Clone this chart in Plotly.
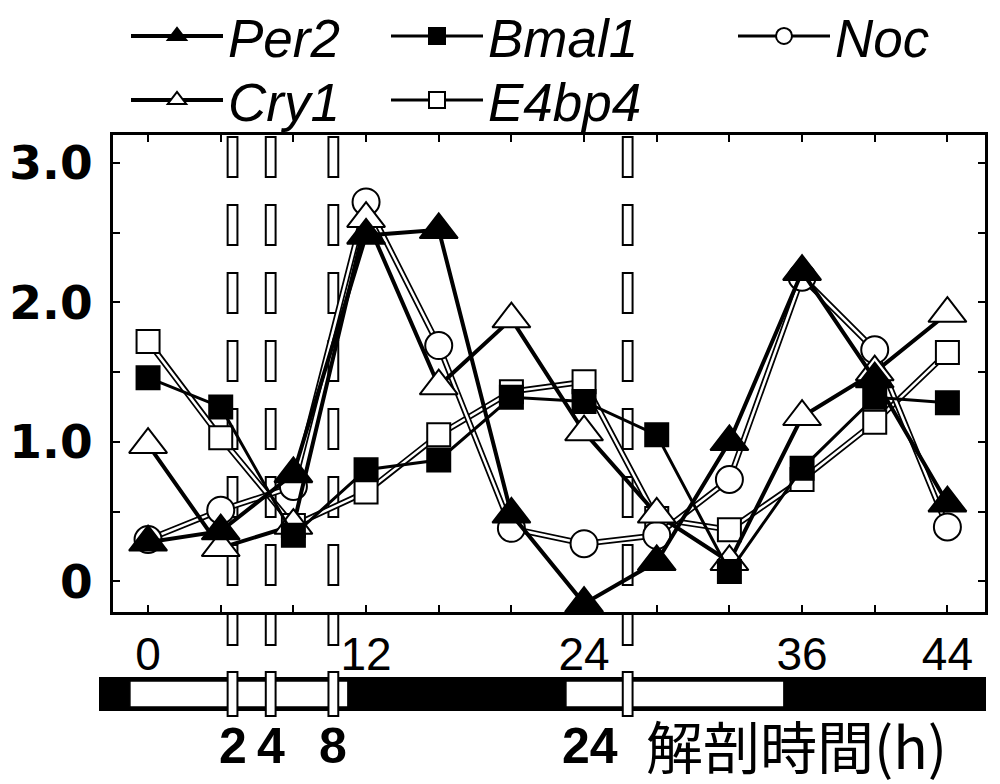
import plotly.graph_objects as go

hours = [0, 4, 8, 12, 16, 20, 24, 28, 32, 36, 40, 44]
per2 = [0.28, 0.36, 0.77, 2.48, 2.52, 0.48, -0.16, 0.14, 1.00, 2.22, 1.45, 0.56]
bmal1 = [1.46, 1.25, 0.33, 0.80, 0.87, 1.32, 1.29, 1.05, 0.07, 0.81, 1.32, 1.28]
noc = [0.30, 0.51, 0.68, 2.72, 1.69, 0.38, 0.27, 0.33, 0.73, 2.18, 1.66, 0.39]
cry1 = [0.98, 0.24, 0.40, 2.60, 1.40, 1.88, 1.07, 0.48, 0.14, 1.18, 1.50, 1.92]
e4bp4 = [1.72, 1.03, 0.40, 0.64, 1.05, 1.36, 1.43, 0.45, 0.37, 0.73, 1.14, 1.64]

x_tick_vals = [0, 4, 8, 12, 16, 20, 24, 28, 32, 36, 40, 44]
x_tick_text = ["0", "", "", "12", "", "", "24", "", "", "36", "", "44"]
y_tick_vals = [0, 0.5, 1.0, 1.5, 2.0, 2.5, 3.0]
y_tick_text = ["0", "", "1.0", "", "2.0", "", "3.0"]

# light/dark schedule (hours): dark, light, dark, light, dark
ld_edges = [-1.93, -1.0, 11.0, 23.0, 35.0, 46.07]
ld_light = [False, True, False, True, False]

# dissection markers (hours on axis) and their labels
dissect_hours = [4.65, 6.75, 10.2, 26.4]
dissect_labels = ["2", "4", "8", "24"]
dissect_label_pos = [4.65, 6.75, 10.2, 24.3]

# plot-area geometry (pixels)
PL, PR, PT, PB = 113, 985, 135, 612
W, H = PR - PL, PB - PT
def px(p):
    return (p - PL) / W
def py(p):
    return (PB - p) / H

series = ["Per2", "Bmal1", "Noc", "Cry1", "E4bp4"]
styles = {
    "Per2": dict(y=per2, symbol="triangle-up", size=33, fill="black", hollow=False, width=4),
    "Bmal1": dict(y=bmal1, symbol="square", size=23, fill="black", hollow=False, width=3),
    "Noc": dict(y=noc, symbol="circle", size=27, fill="white", hollow=True, width=2.5),
    "Cry1": dict(y=cry1, symbol="triangle-up", size=33, fill="white", hollow=False, width=4),
    "E4bp4": dict(y=e4bp4, symbol="square", size=23, fill="white", hollow=True, width=2.5),
}
# legend placement (pixel left edge, row centre)
legend_pos = {"Per2": (126, 36), "Bmal1": (386, 36), "Noc": (733, 36),
              "Cry1": (126, 100), "E4bp4": (386, 100)}

fig = go.Figure()

draw_order = ["E4bp4", "Noc", "Cry1", "Bmal1", "Per2"]
for name in draw_order:
    s = styles[name]
    mk = dict(symbol=s["symbol"], size=s["size"], color=s["fill"], line=dict(color="black", width=2))
    if s["hollow"]:
        fig.add_trace(go.Scatter(x=hours, y=s["y"], mode="lines", showlegend=False,
                                 line=dict(color="black", width=s["width"] + 3.5), hoverinfo="skip"))
        fig.add_trace(go.Scatter(x=hours, y=s["y"], mode="lines", showlegend=False,
                                 line=dict(color="white", width=s["width"]), hoverinfo="skip"))
        fig.add_trace(go.Scatter(x=hours, y=s["y"], mode="markers", showlegend=False, marker=mk))
    else:
        fig.add_trace(go.Scatter(x=hours, y=s["y"], mode="lines+markers", showlegend=False,
                                 line=dict(color="black", width=s["width"]), marker=mk))

legend_font = dict(family="Liberation Sans", size=53, color="black", style="italic")
legends = {}
for i, name in enumerate(series):
    s = styles[name]
    key = "legend" if i == 0 else "legend%d" % (i + 1)
    fig.add_trace(go.Scatter(x=[None], y=[None], mode="lines+markers", name=name, legend=key,
                             line=dict(color="black", width=3 if s["hollow"] else s["width"]),
                             marker=dict(symbol=s["symbol"], size=s["size"], color=s["fill"],
                                         line=dict(color="black", width=2))))
    lx, ly = legend_pos[name]
    legends[key] = dict(orientation="h", x=px(lx), xanchor="left", y=py(ly), yanchor="middle",
                        font=legend_font, itemwidth=92, bgcolor="rgba(0,0,0,0)")

shapes = []
# dashed hollow bars
for h in dissect_hours:
    top = 137
    while top < 645:
        bot = min(top + 40, 645)
        shapes.append(dict(type="rect", xref="x", yref="paper", x0=h - 0.27, x1=h + 0.27,
                           y0=py(bot), y1=py(top), fillcolor="white",
                           line=dict(color="black", width=2), layer="below"))
        top += 68

# LD bar
shapes.append(dict(type="rect", xref="paper", yref="paper", x0=px(100), x1=1.0,
                   y0=py(710), y1=py(678), fillcolor="black", line=dict(color="black", width=2)))
for i, lt in enumerate(ld_light):
    if lt:
        shapes.append(dict(type="rect", xref="x", yref="paper", x0=ld_edges[i], x1=ld_edges[i + 1],
                           y0=py(707), y1=py(681), fillcolor="white", line=dict(color="black", width=1.5)))
for h in dissect_hours:
    shapes.append(dict(type="rect", xref="x", yref="paper", x0=h - 0.27, x1=h + 0.27,
                       y0=py(716), y1=py(672), fillcolor="white", line=dict(color="black", width=2)))

annotations = []
for xh, lab in zip(dissect_label_pos, dissect_labels):
    annotations.append(dict(x=xh, xref="x", y=py(746), yref="paper", text=lab, showarrow=False,
                            font=dict(family="Liberation Sans", size=50, color="black", weight="bold"),
                            xanchor="center", yanchor="middle"))
annotations.append(dict(x=27.3, xref="x", y=py(744), yref="paper", text="解剖時間(h)", showarrow=False,
                        font=dict(family="Noto Sans CJK JP", size=57, color="black"),
                        xanchor="left", yanchor="middle"))

fig.update_layout(
    width=1000, height=784,
    margin=dict(l=PL, r=1000 - PR, t=PT, b=784 - PB, autoexpand=False),
    plot_bgcolor="white", paper_bgcolor="white",
    shapes=shapes, annotations=annotations,
    showlegend=True,
    **legends,
)
fig.update_xaxes(range=[-1.93, 46.07], tickvals=x_tick_vals, ticktext=x_tick_text,
                 ticks="inside", ticklen=7, tickwidth=2, tickcolor="black",
                 showline=True, linecolor="black", linewidth=3, mirror="ticks",
                 showgrid=False, zeroline=False, ticklabelstandoff=0, automargin=False,
                 tickfont=dict(family="Liberation Sans", size=46, color="black"))
fig.update_yaxes(range=[-0.22, 3.2], tickvals=y_tick_vals, ticktext=y_tick_text,
                 ticks="inside", ticklen=7, tickwidth=2, tickcolor="black",
                 showline=True, linecolor="black", linewidth=3, mirror="ticks",
                 showgrid=False, zeroline=False, ticklabelstandoff=8, automargin=False,
                 tickfont=dict(family="DejaVu Sans", size=47, color="black", weight="bold"))

fig.write_html("out.html", config={"displayModeBar": False},
               post_script="document.body.style.margin='0';")
